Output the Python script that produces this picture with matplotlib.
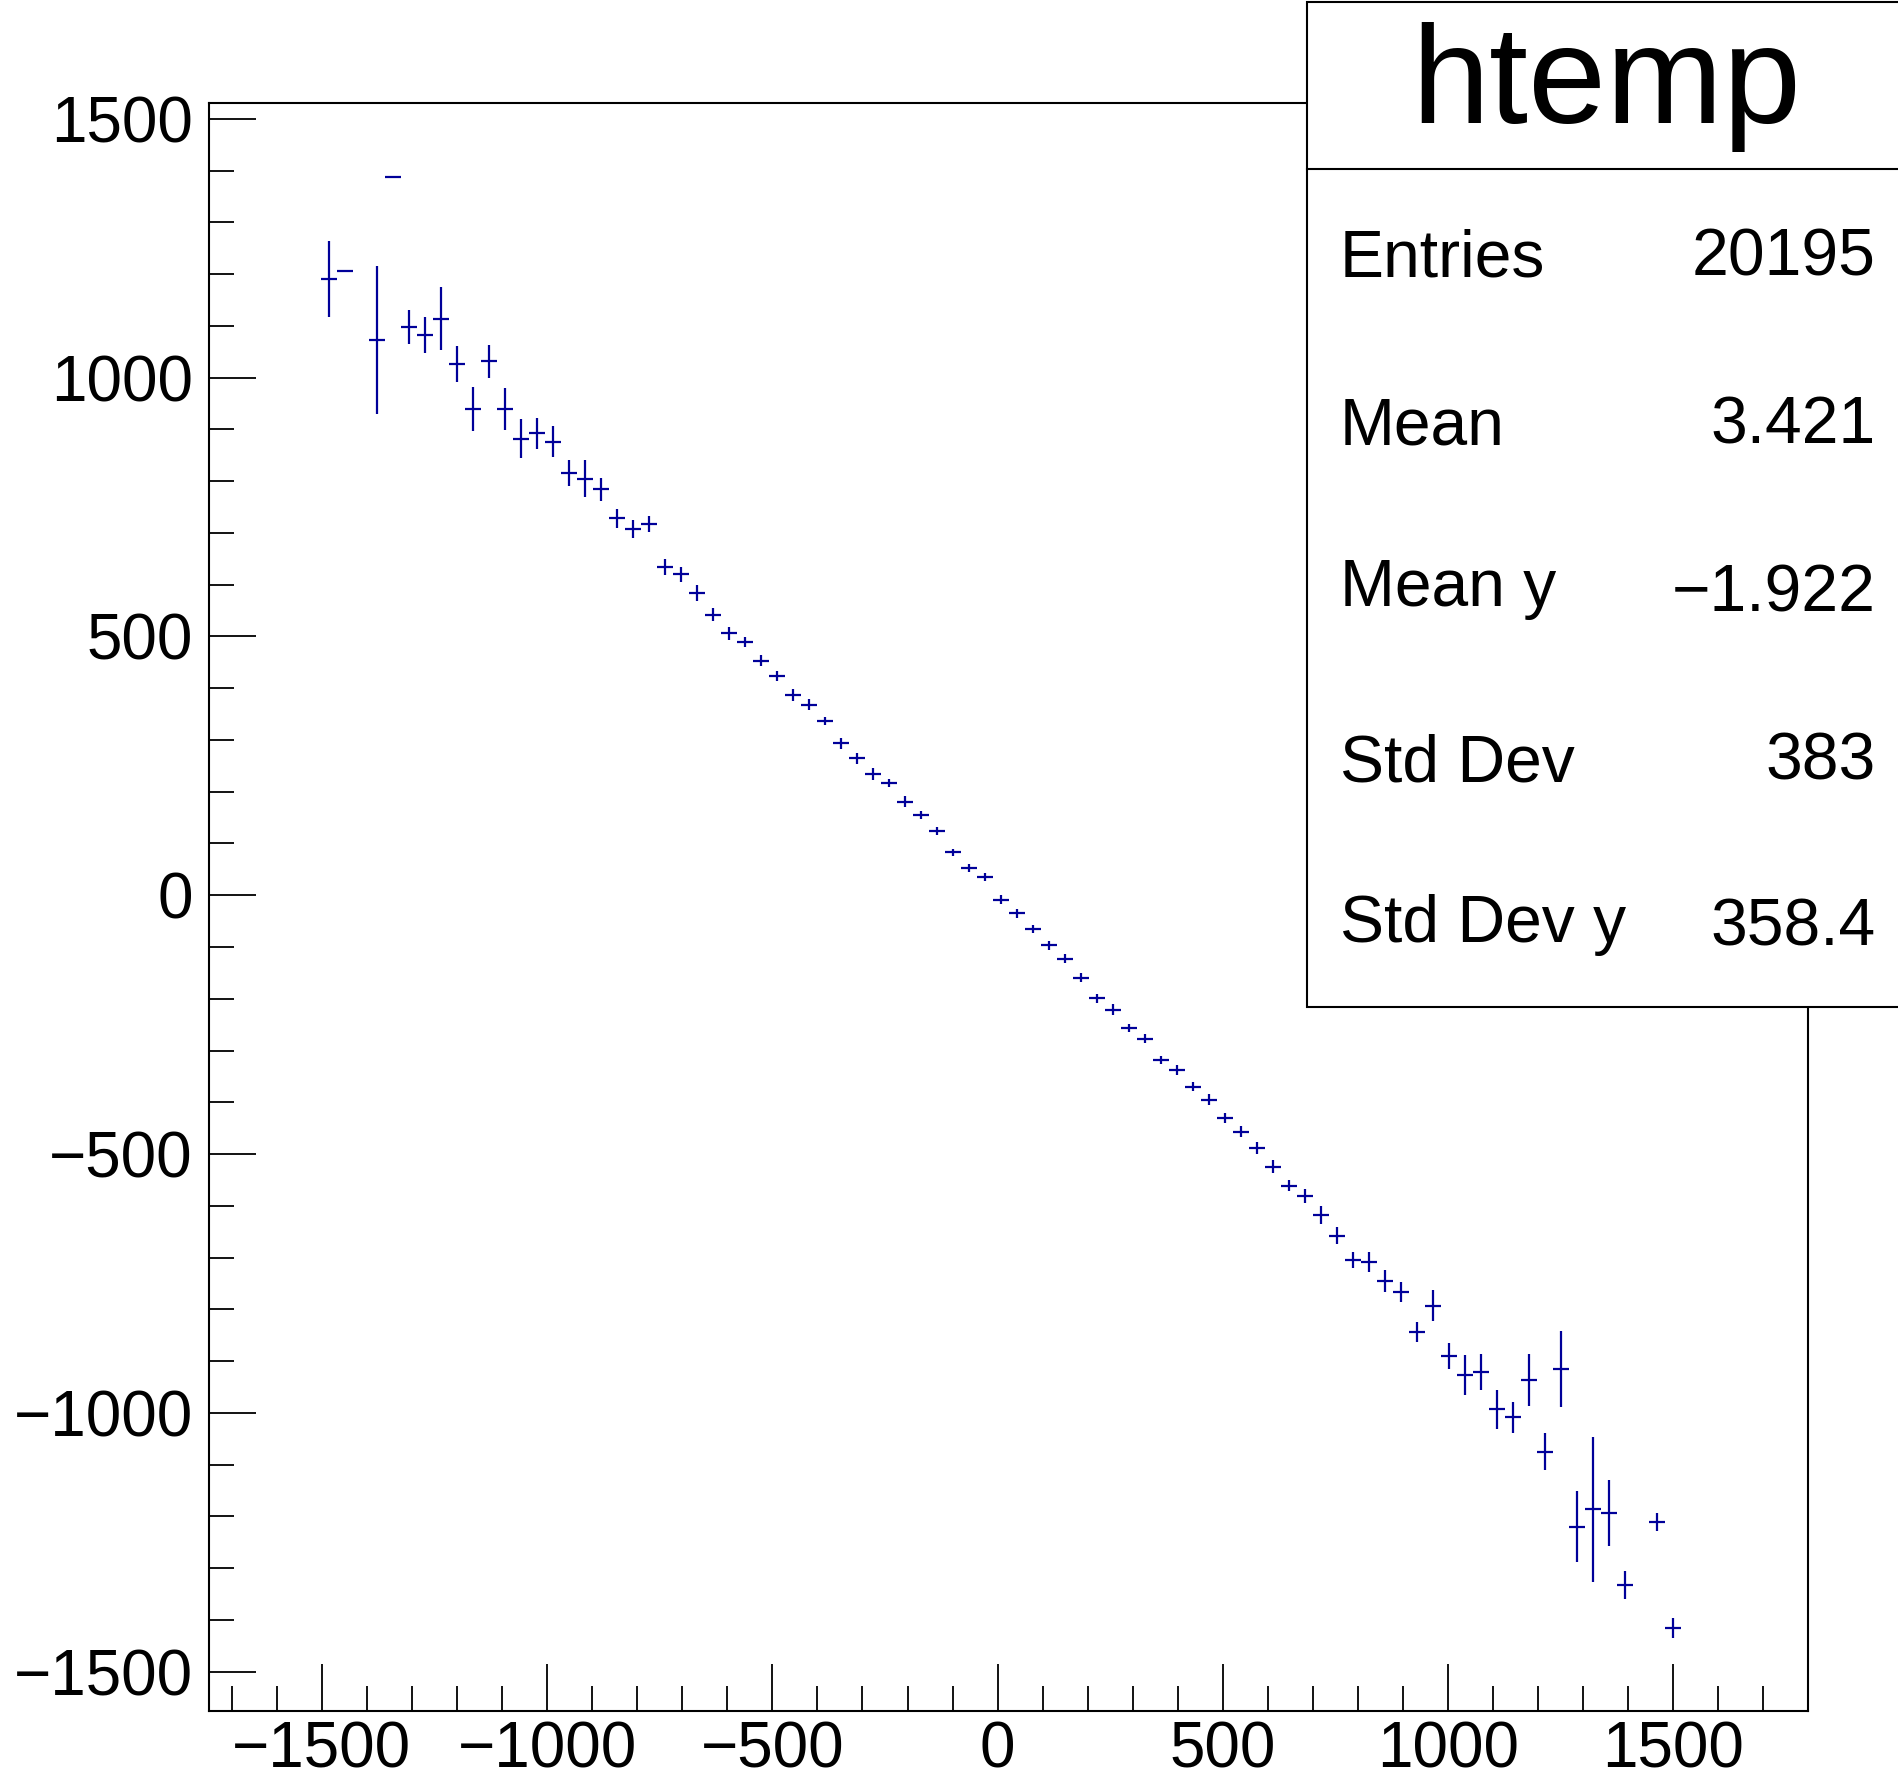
import matplotlib
matplotlib.use("Agg")
import matplotlib.pyplot as plt
import numpy as np
from matplotlib.patches import Rectangle
from matplotlib.lines import Line2D
from matplotlib.ticker import MultipleLocator

plt.rcParams['font.family'] = ['Liberation Sans', 'DejaVu Sans']

# Profile binning (100 bins from -1750 to 1800)
XMIN, XMAX, NBINS = -1750.0, 1800.0, 100

# filled bins, mean y per bin, error on mean
bins = [7, 8, 10, 11, 12, 13, 14, 15, 16, 17, 18, 19, 20, 21, 22, 23, 24,
        25, 26, 27, 28, 29, 30, 31, 32, 33, 34, 35, 36, 37, 38, 39, 40, 41,
        42, 43, 44, 45, 46, 47, 48, 49, 50, 51, 52, 53, 54, 55, 56, 57, 58,
        59, 60, 61, 62, 63, 64, 65, 66, 67, 68, 69, 70, 71, 72, 73, 74, 75,
        76, 77, 78, 79, 80, 81, 82, 83, 84, 85, 86, 87, 88, 90, 91]
means = [1190.5, 1206.5, 1072.6, 1386.9, 1098.3, 1082.9, 1113.8, 1025.7,
         938.8, 1031.5, 938.8, 881.4, 892.4, 876.2, 815.1, 804.7, 784.2,
         727.8, 707.0, 717.2, 634.7, 619.7, 583.3, 542.0, 506.1, 489.3,
         453.2, 423.6, 386.9, 367.6, 336.1, 293.6, 264.6, 234.3, 216.3,
         180.8, 155.1, 124.2, 83.1, 52.2, 35.9, -9.1, -34.8, -65.7, -96.6,
         -123.0, -159.2, -199.3, -221.6, -256.9, -277.6, -318.1, -337.5,
         -369.7, -395.4, -430.7, -456.6, -488.7, -524.2, -560.9, -580.8,
         -617.5, -657.5, -704.5, -708.9, -745.0, -766.3, -844.1, -792.7,
         -889.9, -926.6, -920.8, -992.9, -1008.3, -936.3, -1074.8, -915.0,
         -1219.6, -1186.0, -1193.7, -1332.8, -1210.0, -1415.9]
errors = [74.0, 0.0, 142.6, 0.0, 32.8, 34.8, 60.8, 34.8, 42.5, 32.3, 40.2,
          37.7, 30.3, 29.9, 25.1, 35.4, 22.6, 17.8, 17.4, 14.9, 15.5, 15.0,
          15.5, 12.9, 12.2, 10.0, 11.0, 9.7, 11.2, 10.6, 8.1, 10.6, 10.6,
          11.2, 7.7, 11.2, 8.3, 8.3, 6.4, 8.3, 7.7, 8.7, 9.1, 8.1, 9.1, 8.7,
          9.1, 8.7, 10.6, 8.3, 8.7, 8.1, 10.2, 8.3, 10.6, 10.2, 11.2, 11.2,
          12.9, 10.6, 13.5, 17.8, 16.8, 15.5, 18.7, 20.9, 19.3, 19.9, 30.5,
          25.5, 38.0, 35.3, 38.0, 29.9, 50.8, 35.3, 74.0, 69.2, 140.0, 63.2,
          26.7, 17.4, 19.3]

stat_names = ["Entries", "Mean", "Mean y", "Std Dev", "Std Dev y"]
stat_values = ["20195", "3.421", "\u22121.922", "383", "358.4"]
hist_name = "htemp"

W, H = 1899, 1787
fig = plt.figure(figsize=(W / 100, H / 100), dpi=100)
ax = fig.add_axes([209.3 / W, 1 - 1710.5 / H, (1808.5 - 209.3) / W, (1710.5 - 102.7) / H])

width = (XMAX - XMIN) / NBINS
centers = XMIN + (np.array(bins) + 0.5) * width
ax.errorbar(centers, means, yerr=errors, xerr=width / 2, fmt='none',
            ecolor='#000099', elinewidth=1.6, capsize=0)

ax.set_xlim(XMIN, XMAX)
ax.set_ylim(-1575, 1531)
ax.xaxis.set_major_locator(MultipleLocator(500))
ax.xaxis.set_minor_locator(MultipleLocator(100))
ax.yaxis.set_major_locator(MultipleLocator(500))
ax.yaxis.set_minor_locator(MultipleLocator(100))
ax.tick_params(which='both', direction='in', top=False, right=False, width=1.3)
ax.tick_params(which='major', length=34, labelsize=46)
ax.tick_params(axis='x', which='major', pad=7)
ax.tick_params(axis='y', which='major', pad=12)
ax.tick_params(which='minor', length=18)
for s in ax.spines.values():
    s.set_linewidth(1.5)

# stats box
def fx(px):
    return px / W

def fy(py):
    return 1 - py / H

fig.add_artist(Rectangle((fx(1307.5), fy(1006.7)), fx(1910) - fx(1307.5), fy(1.5) - fy(1006.7),
                         transform=fig.transFigure, facecolor='white', edgecolor='black',
                         linewidth=1.5, zorder=10))
fig.add_artist(Line2D([fx(1307.5), fx(1910)], [fy(169.3), fy(169.3)],
                      transform=fig.transFigure, color='black', linewidth=1.5, zorder=11))
fig.text(fx(1606), fy(122.7), hist_name, fontsize=101, ha='center', va='baseline', zorder=12)

label_base = [276.7, 444.7, 605.7, 781.0, 941.7]
value_base = [276.0, 444.0, 612.0, 780.0, 946.0]
for name, val, lb, vb in zip(stat_names, stat_values, label_base, value_base):
    fig.text(fx(1340), fy(lb), name, fontsize=47.5, ha='left', va='baseline', zorder=12)
    fig.text(fx(1876), fy(vb), val, fontsize=47.5, ha='right', va='baseline', zorder=12)

fig.savefig("out.png", dpi=100, facecolor='white')
